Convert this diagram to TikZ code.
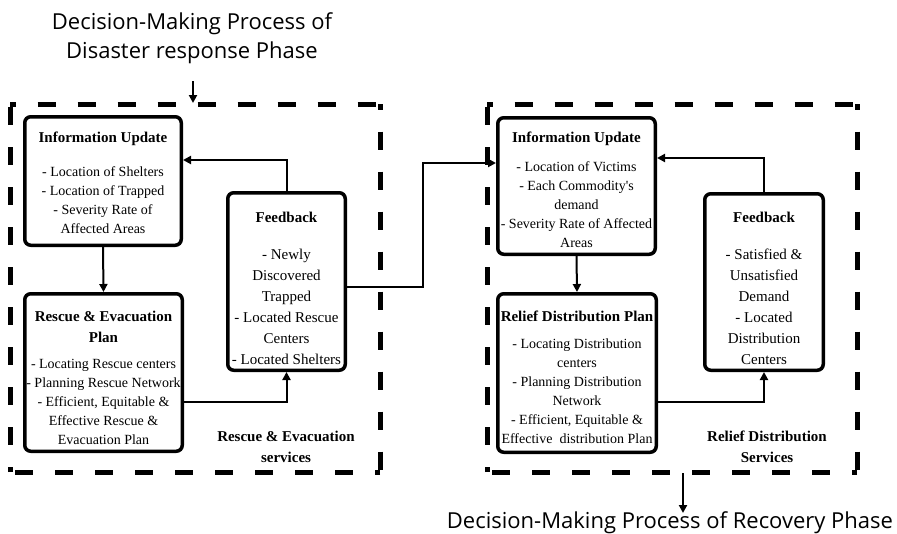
\documentclass[tikz,border=0pt]{standalone}
\usepackage{fontspec}
\setmainfont{Liberation Serif}[Ligatures=TeXOff]
\newfontfamily\titlefont{Open Sans}
\usetikzlibrary{arrows.meta}
\tikzset{
  box/.style={draw, line width=3.5pt, rounded corners=6pt, inner sep=0pt},
  txt/.style={align=center, inner sep=0pt, font=\fontsize{14}{19}\selectfont},
  fbtxt/.style={align=center, inner sep=0pt, font=\fontsize{15}{21}\selectfont},
  lab/.style={align=center, inner sep=0pt, font=\bfseries\fontsize{15}{21}\selectfont},
  ttl/.style={align=center, inner sep=0pt, font=\titlefont\fontsize{22}{29}\selectfont},
  conn/.style={line width=2pt, -{Triangle[length=8pt,width=8pt]}},
  dashside/.style={line width=5pt, dash pattern=on 18pt off 22pt, dash phase=12.5pt, line cap=square}
}
\begin{document}
\begin{tikzpicture}[x=1pt,y=-1pt]
\useasboundingbox (0,0) rectangle (897,533);
% dashed frames
\draw[dashside] (10,104) -- (380,104);
\draw[dashside] (380,104) -- (380,472);
\draw[dashside] (380,472) -- (10,472);
\draw[dashside] (10,472) -- (10,104);
\draw[dashside] (487,104) -- (857,104);
\draw[dashside] (857,104) -- (857,472);
\draw[dashside] (857,472) -- (487,472);
\draw[dashside] (487,472) -- (487,104);
% titles
\node[ttl] (title1) at (192,38) {Decision-Making Process of\\Disaster response Phase};
\node[ttl] (title2) at (670,522.5) {Decision-Making Process of Recovery Phase};
\coordinate (t1a) at (193,81);
\coordinate (t1b) at (193,103);
\coordinate (t2a) at (683,473);
\coordinate (t2b) at (683,513);
\draw[conn] (t1a) -- (t1b);
\draw[conn] (t2a) -- (t2b);
% left boxes
\node[box, minimum width=156.5pt, minimum height=128.5pt] (iuL) at (103,181) {};
\node[box, minimum width=157.5pt, minimum height=157.5pt] (repL) at (103.5,372.5) {};
\node[box, minimum width=117.5pt, minimum height=177.5pt] (fbL) at (286.5,281.5) {};
\node[txt] (iuLt) at (103,182.5) {{\bfseries\fontsize{15}{19}\selectfont Information Update}\\[15pt]- Location of Shelters\\- Location of Trapped\\- Severity Rate of\\Affected Areas};
\node[txt] (repLt) at (103.5,377.5) {{\bfseries\fontsize{15}{19}\selectfont Rescue \& Evacuation}\\[2pt]{\bfseries\fontsize{15}{19}\selectfont Plan}\\[7pt]- Locating Rescue centers\\- Planning Rescue Network\\- Efficient, Equitable \&\\Effective Rescue \&\\Evacuation Plan};
\node[fbtxt] (fbLt) at (286.5,288.5) {{\bfseries Feedback}\\[16pt]- Newly\\Discovered\\Trapped\\- Located Rescue\\Centers\\- Located Shelters};
\node[lab] (labL) at (286,446.5) {Rescue \& Evacuation\\services};
% right boxes
\node[box, minimum width=157.5pt, minimum height=136.5pt] (iuR) at (576.5,186) {};
\node[box, minimum width=158.5pt, minimum height=158.5pt] (rdp) at (577,373) {};
\node[box, minimum width=118.5pt, minimum height=176.5pt] (fbR) at (764,282) {};
\node[txt] (iuRt) at (576.5,190) {{\bfseries\fontsize{15}{19}\selectfont Information Update}\\[10pt]- Location of Victims\\- Each Commodity's\\demand\\- Severity Rate of Affected\\Areas};
\node[txt] (rdpt) at (577,377.5) {{\bfseries\fontsize{15}{19}\selectfont Relief Distribution Plan}\\[8pt]- Locating Distribution\\centers\\- Planning Distribution\\Network\\- Efficient, Equitable \&\\Effective\ \ distribution Plan};
\node[fbtxt] (fbRt) at (764,288.5) {{\bfseries Feedback}\\[16pt]- Satisfied \&\\Unsatisfied\\Demand\\- Located\\Distribution\\Centers};
\node[lab] (labR) at (767,446.5) {Relief Distribution\\Services};
% connectors left
\draw[conn] (iuL.south) -- (repL.north);
\draw[conn] (fbL.north) |- ([yshift=21pt]iuL.east);
\draw[conn] ([yshift=-29.5pt]repL.east) -| (fbL.south);
\coordinate (bend) at (423,163);
\draw[conn] ([yshift=-5.5pt]fbL.east) -| (bend) -- ([yshift=23pt]iuR.west);
% connectors right
\draw[conn] (iuR.south) -- (rdp.north);
\draw[conn] (fbR.north) |- ([yshift=28pt]iuR.east);
\draw[conn] ([yshift=-29pt]rdp.east) -| (fbR.south);
\end{tikzpicture}
\end{document}
